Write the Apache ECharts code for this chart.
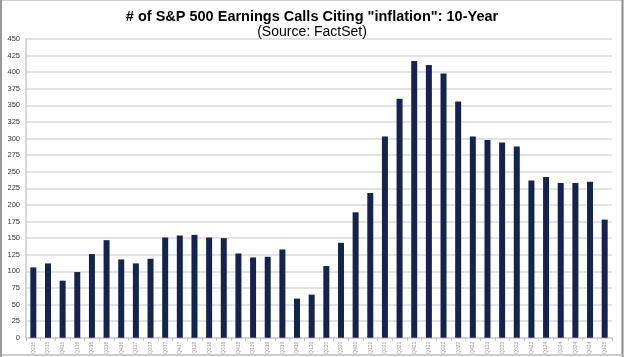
<!DOCTYPE html>
<html><head><meta charset="utf-8">
<script src="https://cdn.jsdelivr.net/npm/echarts@6/dist/echarts.min.js"></script>
<style>html,body{margin:0;padding:0;background:#fff}#c{width:624px;height:357px}</style>
</head><body><div id="c"></div>
<script>
const categories = ["Q215","Q315","Q415","Q116","Q216","Q316","Q416","Q117","Q217","Q317","Q417","Q118","Q218","Q318","Q418","Q119","Q219","Q319","Q419","Q120","Q220","Q320","Q420","Q121","Q221","Q321","Q421","Q122","Q222","Q322","Q422","Q123","Q223","Q323","Q423","Q124","Q224","Q324","Q424","Q125"];
const values = [106,112,86,99,126,147,118,112,119,151,154,155,151,150,127,121,122,133,59,65,108,143,189,218,303,360,417,411,398,356,303,298,294,288,237,242,233,233,235,178];
const titleText = '# of S&P 500 Earnings Calls Citing "inflation": 10-Year';
const subtitleText = '(Source: FactSet)';

const chart = echarts.init(document.getElementById('c'), null, {renderer:'canvas'});
chart.setOption({
  animation:false,
  backgroundColor:'#fff',
  title:{
    text:titleText, subtext:subtitleText, left:'center', top:4, itemGap:1,
    textStyle:{fontFamily:'Liberation Sans', fontSize:14.5, fontWeight:'bold', color:'#000'},
    subtextStyle:{fontFamily:'Liberation Sans', fontSize:14, color:'#000'}
  },
  graphic:[
    {type:'line', shape:{x1:0,y1:0.5,x2:624,y2:0.5}, style:{stroke:'#cfcfcf', lineWidth:1}, silent:true},
    {type:'line', shape:{x1:622.5,y1:0,x2:622.5,y2:357}, style:{stroke:'#8a8a8a', lineWidth:2}, silent:true},
    {type:'line', shape:{x1:0,y1:355,x2:624,y2:355}, style:{stroke:'#bdbdbd', lineWidth:1.5}, silent:true},
    {type:'line', shape:{x1:1,y1:0,x2:1,y2:357}, style:{stroke:'#9a9a9a', lineWidth:2}, silent:true}
  ],
  grid:{left:26, right:12, top:39, bottom:18, containLabel:false},
  xAxis:{
    type:'category', data:categories,
    axisLine:{show:true, lineStyle:{color:'#d0d0d0', width:1.5}},
    axisTick:{show:true, alignWithLabel:false, length:3, lineStyle:{color:'#bbb'}},
    axisLabel:{rotate:90, fontSize:5, color:'#999', margin:4, fontFamily:'Liberation Sans', interval:0}
  },
  yAxis:{
    type:'value', min:0, max:450, interval:25,
    axisLine:{show:true, lineStyle:{color:'#c8c8c8', width:1.5}},
    axisTick:{show:false},
    splitLine:{lineStyle:{color:'#d9d9d9', width:1.5}},
    axisLabel:{fontSize:7.5, color:'#333', margin:6, fontFamily:'Liberation Sans'}
  },
  series:[{type:'bar', data:values, barWidth:6, itemStyle:{color:'#14244f'}}]
});
</script></body></html>
